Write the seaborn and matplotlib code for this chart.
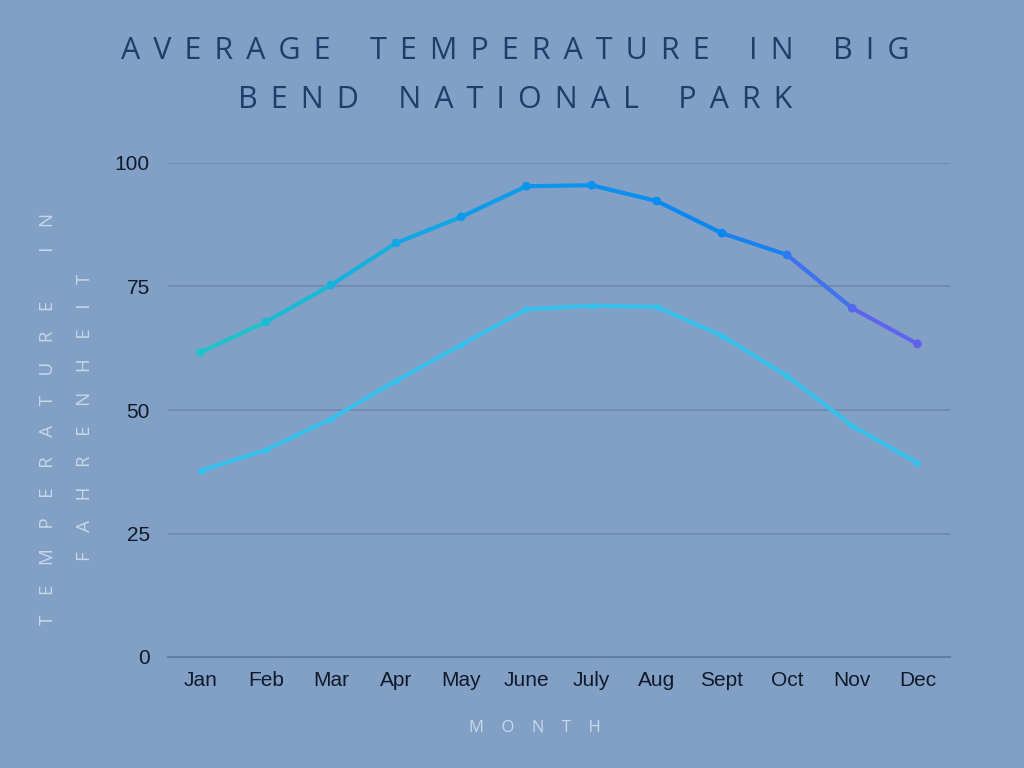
import numpy as np
import pandas as pd
import matplotlib
matplotlib.use("Agg")
import matplotlib.pyplot as plt
import seaborn as sns

months = ["Jan", "Feb", "Mar", "Apr", "May", "June", "July", "Aug", "Sept", "Oct", "Nov", "Dec"]
high_temps = [61.7, 67.8, 75.3, 83.8, 89.1, 95.3, 95.5, 92.3, 85.8, 81.4, 70.6, 63.4]
low_temps = [37.7, 41.9, 48.2, 55.9, 63.2, 70.4, 71.1, 70.9, 65.0, 56.9, 46.8, 39.3]
y_ticks = [0, 25, 50, 75, 100]
title_lines = ["AVERAGE TEMPERATURE IN BIG", "BEND NATIONAL PARK"]
ylabel_lines = ["TEMPERATURE IN", "FAHRENHEIT"]
xlabel_text = "MONTH"

# gradient colours for the high-temperature line segments (Jan->Dec)
seg_colors = ["#1fc2cc", "#1abad5", "#15b0dd", "#11a6e4", "#0d9cea", "#0a94ee",
              "#0a8eef", "#0a88f0", "#1a82f0", "#3f72ef", "#5e64ee"]
point_colors = ["#20c4c8", "#1bbcd3", "#16b2dc", "#11a6e4", "#0d9ce9", "#0a95ee",
                "#0a92ef", "#0a8df0", "#0a86f0", "#2a7cf0", "#5368ee", "#6460ee"]
low_color = "#38c0ec"

BG = "#82a0c5"
TITLE_C = "#1e3f6c"
LIGHT_C = "#c9d7ea"
GRID_C = "#6e89ae"
FONT = ["Open Sans", "DejaVu Sans"]


def spaced(s, gap, wgap):
    return wgap.join(gap.join(w) for w in s.split(" "))


sns.set_theme(style="white")
plt.rcParams["font.family"] = ["Liberation Sans", "DejaVu Sans"]

fig = plt.figure(figsize=(10.24, 7.68), dpi=100, facecolor=BG)
ax = fig.add_axes([168 / 1024, 1 - 657 / 768, (950 - 168) / 1024, (657 - 163) / 768])
ax.set_facecolor(BG)

idx = np.arange(len(months))

# low line
low_df = pd.DataFrame({"idx": idx, "temp": low_temps})
sns.lineplot(data=low_df, x="idx", y="temp", color=low_color, linewidth=3,
             marker="o", markersize=5, markeredgewidth=0, ax=ax)

# high line with gradient segments
rows = []
for i in range(len(months) - 1):
    for j in (i, i + 1):
        rows.append({"idx": j, "temp": high_temps[j], "seg": i})
high_df = pd.DataFrame(rows)
sns.lineplot(data=high_df, x="idx", y="temp", hue="seg", palette=seg_colors,
             linewidth=3, legend=False, ax=ax, sort=False)
pts_df = pd.DataFrame({"idx": idx, "temp": high_temps, "m": months})
sns.scatterplot(data=pts_df, x="idx", y="temp", hue="m", palette=point_colors,
                s=40, linewidth=0, legend=False, ax=ax, zorder=5)

ax.set_xlim(-0.5, 11.5)
ax.set_ylim(0, 100)
ax.set_yticks(y_ticks)
ax.set_yticklabels([str(v) for v in y_ticks])
ax.set_xticks(idx)
ax.set_xticklabels(months)
ax.tick_params(axis="both", length=0, labelsize=15, colors="#111a2a")
ax.tick_params(axis="y", pad=13)
ax.tick_params(axis="x", pad=10)
for t in ax.get_yticks():
    if t > 0:
        ax.axhline(t, color=GRID_C, linewidth=1.2, zorder=0)
for s in ["top", "right", "left"]:
    ax.spines[s].set_visible(False)
ax.spines["bottom"].set_color("#5f7ca3")
ax.spines["bottom"].set_linewidth(1.5)
ax.set_xlabel("")
ax.set_ylabel("")

# title
tgap, twgap = " \u2009", "     "
fig.text(515 / 1024, 1 - 51 / 768, spaced(title_lines[0], tgap, twgap), ha="center",
         va="center", fontsize=22, color=TITLE_C, family=FONT)
fig.text(515 / 1024, 1 - 100 / 768, spaced(title_lines[1], tgap, twgap), ha="center",
         va="center", fontsize=22, color=TITLE_C, family=FONT)

# y label (two lines, rotated)
lgap, lwgap = "    ", "          "
fig.text(48 / 1024, 1 - 419 / 768, spaced(ylabel_lines[0], lgap, lwgap), rotation=90,
         ha="center", va="center", fontsize=13.5, color=LIGHT_C, family=FONT)
fig.text(85 / 1024, 1 - 417 / 768, spaced(ylabel_lines[1], lgap, lwgap), rotation=90,
         ha="center", va="center", fontsize=13.5, color=LIGHT_C, family=FONT)

# x label
fig.text(535 / 1024, 1 - 728 / 768, spaced(xlabel_text, lgap, lwgap), ha="center",
         va="center", fontsize=12, color=LIGHT_C, family=FONT)

fig.savefig("out.png", dpi=100, facecolor=BG)
